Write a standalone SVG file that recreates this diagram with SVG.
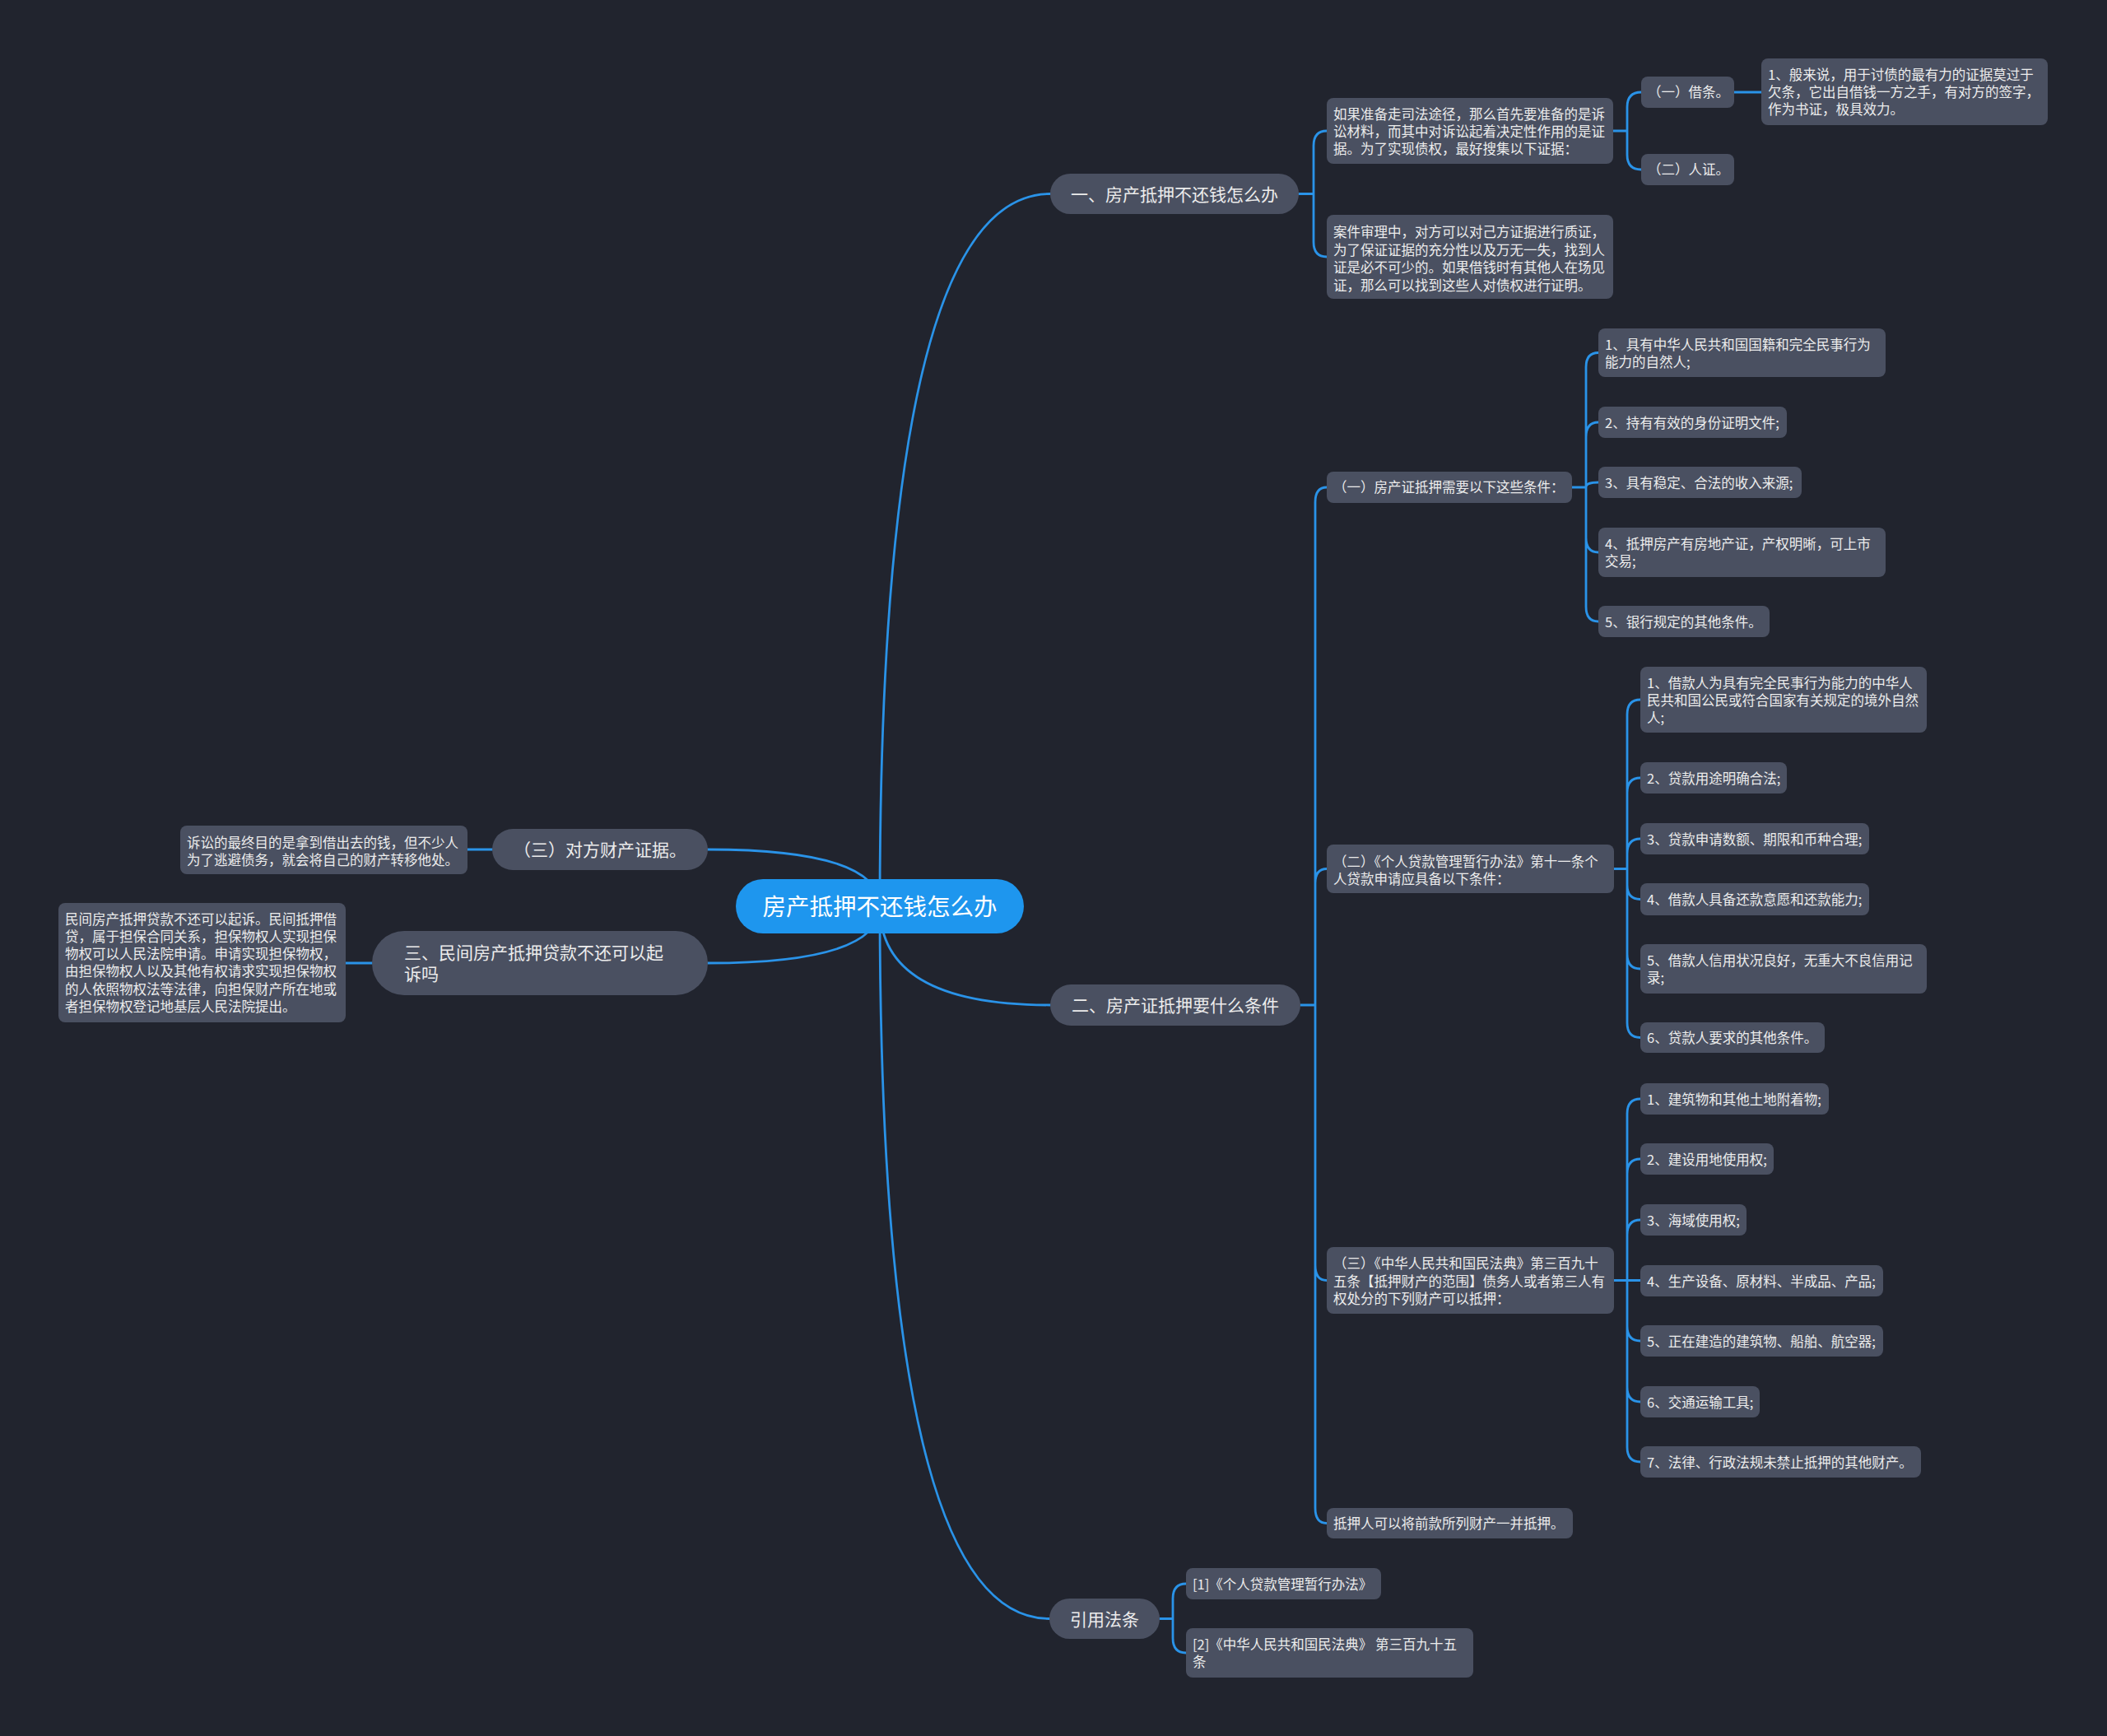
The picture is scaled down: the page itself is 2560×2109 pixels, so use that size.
<svg xmlns="http://www.w3.org/2000/svg" width="2560" height="2109" viewBox="0 0 2560 2109">
<style>
text{font-family:"Noto Sans CJK SC","Noto Sans",sans-serif;}
.bg{fill:#21242e;}
.root{fill:#1e96ee;}
.br{fill:#4a5061;}
.lf{fill:#4a5061;}
.rt{fill:#ffffff;font-size:28.5px;text-anchor:middle;}
.bt{fill:#ececec;font-size:21px;}
.lt{fill:#ececec;font-size:16.5px;}
.mid{text-anchor:middle;}
.c{fill:none;stroke:#2a93e8;stroke-width:2.8;stroke-linecap:round;}
</style>
<rect class="bg" x="0" y="0" width="2560" height="2109"/>

<g id="connectors">
  <path class="c" d="M1069 1101 Q1069 235.5 1276 235.5"/>
  <path class="c" d="M1069 1101 Q1069 1221 1276 1221"/>
  <path class="c" d="M1069 1101 Q1069 1966.5 1275 1966.5"/>
  <path class="c" d="M1069 1101 Q1069 1032 860 1032"/>
  <path class="c" d="M1069 1101 Q1069 1170 860 1170"/>
  <path class="c" d="M598 1032 H568"/>
  <path class="c" d="M452 1170 H420"/>
  <!-- branch 1 -->
  <path class="c" d="M1578 235.5 H1596 M1596 235.5 V177 Q1596 159 1612 159 M1596 235.5 V294 Q1596 312 1612 312"/>
  <path class="c" d="M1960 159 H1977 M1977 159 V130 Q1977 112 1994 112 M1977 159 V188 Q1977 206 1994 206"/>
  <path class="c" d="M2107 112 H2140"/>
  <!-- branch 2 -->
  <path class="c" d="M1580 1221 H1598 M1598 1221 V610 Q1598 592 1612 592 M1598 1221 V1073 Q1598 1055.5 1612 1055.5 M1598 1221 V1537 Q1598 1555.5 1612 1555.5 M1598 1221 V1832 Q1598 1850.5 1612 1850.5"/>
  <path class="c" d="M1910 592 H1927 M1927 592 V446 Q1927 428.5 1942 428.5 M1927 592 V531 Q1927 513 1942 513 M1927 592 Q1927 586 1942 586 M1927 592 V653 Q1927 671 1942 671 M1927 592 V737 Q1927 755 1942 755"/>
  <path class="c" d="M1961 1055.5 H1977 M1977 1055.5 V868 Q1977 850 1993 850 M1977 1055.5 V963 Q1977 945 1993 945 M1977 1055.5 V1037 Q1977 1019 1993 1019 M1977 1055.5 V1075 Q1977 1092.5 1993 1092.5 M1977 1055.5 V1159 Q1977 1177 1993 1177 M1977 1055.5 V1242.5 Q1977 1260.5 1993 1260.5"/>
  <path class="c" d="M1961 1555.5 H1977 M1977 1555.5 V1353 Q1977 1335 1993 1335 M1977 1555.5 V1426 Q1977 1408 1993 1408 M1977 1555.5 V1500 Q1977 1482 1993 1482 M1977 1555.5 H1993 M1977 1555.5 V1611 Q1977 1629 1993 1629 M1977 1555.5 V1685 Q1977 1703 1993 1703 M1977 1555.5 V1758 Q1977 1776 1993 1776"/>
  <!-- branch 3 -->
  <path class="c" d="M1409 1966.5 H1425 M1425 1966.5 V1942 Q1425 1924 1441 1924 M1425 1966.5 V1990 Q1425 2008 1441 2008"/>
</g>

<g id="root">
  <rect class="root" x="894" y="1068" width="350" height="66" rx="33"/>
  <text class="rt" x="1069" y="1111.5">房产抵押不还钱怎么办</text>
</g>

<g id="b1">
  <rect class="br" x="1276" y="211" width="302" height="49" rx="24.5"/>
  <text class="bt mid" x="1427" y="243.5">一、房产抵押不还钱怎么办</text>
</g>
<g id="b1-a">
  <rect class="lf" x="1612" y="119" width="348" height="80" rx="8"/>
  <text class="lt" x="1620" y="145">如果准备走司法途径，那么首先要准备的是诉</text>
  <text class="lt" x="1620" y="166">讼材料，而其中对诉讼起着决定性作用的是证</text>
  <text class="lt" x="1620" y="187">据。为了实现债权，最好搜集以下证据：</text>
</g>
<g id="b1-a1">
  <rect class="lf" x="1994" y="93" width="113" height="38" rx="8"/>
  <text class="lt" x="2002" y="118.3">（一）借条。</text>
</g>
<g id="b1-a1-1">
  <rect class="lf" x="2140" y="71" width="348" height="81" rx="8"/>
  <text class="lt" x="2148" y="97">1、般来说，用于讨债的最有力的证据莫过于</text>
  <text class="lt" x="2148" y="118">欠条，它出自借钱一方之手，有对方的签字，</text>
  <text class="lt" x="2148" y="139">作为书证，极具效力。</text>
</g>
<g id="b1-a2">
  <rect class="lf" x="1994" y="187" width="113" height="38" rx="8"/>
  <text class="lt" x="2002" y="212.3">（二）人证。</text>
</g>
<g id="b1-b">
  <rect class="lf" x="1612" y="261" width="348" height="102" rx="8"/>
  <text class="lt" x="1620" y="288">案件审理中，对方可以对己方证据进行质证，</text>
  <text class="lt" x="1620" y="309.5">为了保证证据的充分性以及万无一失，找到人</text>
  <text class="lt" x="1620" y="331">证是必不可少的。如果借钱时有其他人在场见</text>
  <text class="lt" x="1620" y="352.5">证，那么可以找到这些人对债权进行证明。</text>
</g>

<g id="b2">
  <rect class="br" x="1276" y="1196" width="304" height="50" rx="25"/>
  <text class="bt mid" x="1428" y="1229">二、房产证抵押要什么条件</text>
</g>
<g id="b2-c1">
  <rect class="lf" x="1612" y="573" width="298" height="38" rx="8"/>
  <text class="lt" x="1620" y="598.3">（一）房产证抵押需要以下这些条件：</text>
</g>
<g id="b2-c1-1">
  <rect class="lf" x="1942" y="399" width="349" height="59" rx="8"/>
  <text class="lt" x="1950" y="424.5">1、具有中华人民共和国国籍和完全民事行为</text>
  <text class="lt" x="1950" y="446">能力的自然人;</text>
</g>
<g id="b2-c1-2">
  <rect class="lf" x="1942" y="494" width="229" height="38" rx="8"/>
  <text class="lt" x="1950" y="519.5">2、持有有效的身份证明文件;</text>
</g>
<g id="b2-c1-3">
  <rect class="lf" x="1942" y="567" width="247" height="38" rx="8"/>
  <text class="lt" x="1950" y="592.5">3、具有稳定、合法的收入来源;</text>
</g>
<g id="b2-c1-4">
  <rect class="lf" x="1942" y="641" width="349" height="60" rx="8"/>
  <text class="lt" x="1950" y="667">4、抵押房产有房地产证，产权明晰，可上市</text>
  <text class="lt" x="1950" y="688">交易;</text>
</g>
<g id="b2-c1-5">
  <rect class="lf" x="1942" y="736" width="208" height="38" rx="8"/>
  <text class="lt" x="1950" y="761.5">5、银行规定的其他条件。</text>
</g>
<g id="b2-c2">
  <rect class="lf" x="1612" y="1026" width="349" height="59" rx="8"/>
  <text class="lt" x="1620" y="1052.5">（二）《个人贷款管理暂行办法》第十一条个</text>
  <text class="lt" x="1620" y="1073.5">人贷款申请应具备以下条件：</text>
</g>
<g id="b2-c2-1">
  <rect class="lf" x="1993" y="810" width="348" height="80" rx="8"/>
  <text class="lt" x="2001" y="835.5">1、借款人为具有完全民事行为能力的中华人</text>
  <text class="lt" x="2001" y="856.5">民共和国公民或符合国家有关规定的境外自然</text>
  <text class="lt" x="2001" y="877.5">人;</text>
</g>
<g id="b2-c2-2">
  <rect class="lf" x="1993" y="926" width="178" height="38" rx="8"/>
  <text class="lt" x="2001" y="951.5">2、贷款用途明确合法;</text>
</g>
<g id="b2-c2-3">
  <rect class="lf" x="1993" y="1000" width="278" height="38" rx="8"/>
  <text class="lt" x="2001" y="1025.5">3、贷款申请数额、期限和币种合理;</text>
</g>
<g id="b2-c2-4">
  <rect class="lf" x="1993" y="1073" width="278" height="39" rx="8"/>
  <text class="lt" x="2001" y="1099">4、借款人具备还款意愿和还款能力;</text>
</g>
<g id="b2-c2-5">
  <rect class="lf" x="1993" y="1147" width="348" height="60" rx="8"/>
  <text class="lt" x="2001" y="1173">5、借款人信用状况良好，无重大不良信用记</text>
  <text class="lt" x="2001" y="1194">录;</text>
</g>
<g id="b2-c2-6">
  <rect class="lf" x="1993" y="1242" width="224" height="37" rx="8"/>
  <text class="lt" x="2001" y="1267">6、贷款人要求的其他条件。</text>
</g>
<g id="b2-c3">
  <rect class="lf" x="1612" y="1515" width="349" height="81" rx="8"/>
  <text class="lt" x="1620" y="1541">（三）《中华人民共和国民法典》第三百九十</text>
  <text class="lt" x="1620" y="1562.5">五条【抵押财产的范围】债务人或者第三人有</text>
  <text class="lt" x="1620" y="1584">权处分的下列财产可以抵押：</text>
</g>
<g id="b2-c3-1">
  <rect class="lf" x="1993" y="1316" width="229" height="38" rx="8"/>
  <text class="lt" x="2001" y="1341.5">1、建筑物和其他土地附着物;</text>
</g>
<g id="b2-c3-2">
  <rect class="lf" x="1993" y="1389" width="162" height="38" rx="8"/>
  <text class="lt" x="2001" y="1414.5">2、建设用地使用权;</text>
</g>
<g id="b2-c3-3">
  <rect class="lf" x="1993" y="1463" width="129" height="38" rx="8"/>
  <text class="lt" x="2001" y="1488.5">3、海域使用权;</text>
</g>
<g id="b2-c3-4">
  <rect class="lf" x="1993" y="1537" width="295" height="38" rx="8"/>
  <text class="lt" x="2001" y="1562.5">4、生产设备、原材料、半成品、产品;</text>
</g>
<g id="b2-c3-5">
  <rect class="lf" x="1993" y="1610" width="295" height="38" rx="8"/>
  <text class="lt" x="2001" y="1635.5">5、正在建造的建筑物、船舶、航空器;</text>
</g>
<g id="b2-c3-6">
  <rect class="lf" x="1993" y="1684" width="145" height="38" rx="8"/>
  <text class="lt" x="2001" y="1709.5">6、交通运输工具;</text>
</g>
<g id="b2-c3-7">
  <rect class="lf" x="1993" y="1757" width="341" height="38" rx="8"/>
  <text class="lt" x="2001" y="1782.5">7、法律、行政法规未禁止抵押的其他财产。</text>
</g>
<g id="b2-c4">
  <rect class="lf" x="1612" y="1832" width="299" height="37" rx="8"/>
  <text class="lt" x="1620" y="1857">抵押人可以将前款所列财产一并抵押。</text>
</g>

<g id="b3">
  <rect class="br" x="1275" y="1942" width="134" height="49" rx="24.5"/>
  <text class="bt mid" x="1342" y="1974.5">引用法条</text>
</g>
<g id="b3-1">
  <rect class="lf" x="1441" y="1905" width="237" height="38" rx="8"/>
  <text class="lt" x="1449" y="1930.5">[1]《个人贷款管理暂行办法》</text>
</g>
<g id="b3-2">
  <rect class="lf" x="1441" y="1978" width="349" height="60" rx="8"/>
  <text class="lt" x="1449" y="2004">[2]《中华人民共和国民法典》 第三百九十五</text>
  <text class="lt" x="1449" y="2025">条</text>
</g>

<g id="l1">
  <rect class="br" x="598" y="1007" width="262" height="50" rx="25"/>
  <text class="bt mid" x="729" y="1040">（三）对方财产证据。</text>
</g>
<g id="l1-1">
  <rect class="lf" x="219" y="1003" width="349" height="59" rx="8"/>
  <text class="lt" x="227" y="1029.5">诉讼的最终目的是拿到借出去的钱，但不少人</text>
  <text class="lt" x="227" y="1050.5">为了逃避债务，就会将自己的财产转移他处。</text>
</g>
<g id="l2">
  <rect class="br" x="452" y="1131" width="408" height="78" rx="39"/>
  <text class="bt" x="491" y="1165">三、民间房产抵押贷款不还可以起</text>
  <text class="bt" x="491" y="1191">诉吗</text>
</g>
<g id="l2-1">
  <rect class="lf" x="71" y="1097" width="349" height="145" rx="8"/>
  <text class="lt" x="79" y="1122.5">民间房产抵押贷款不还可以起诉。民间抵押借</text>
  <text class="lt" x="79" y="1143.8">贷，属于担保合同关系，担保物权人实现担保</text>
  <text class="lt" x="79" y="1165.1">物权可以人民法院申请。申请实现担保物权，</text>
  <text class="lt" x="79" y="1186.4">由担保物权人以及其他有权请求实现担保物权</text>
  <text class="lt" x="79" y="1207.7">的人依照物权法等法律，向担保财产所在地或</text>
  <text class="lt" x="79" y="1229">者担保物权登记地基层人民法院提出。</text>
</g>
</svg>
